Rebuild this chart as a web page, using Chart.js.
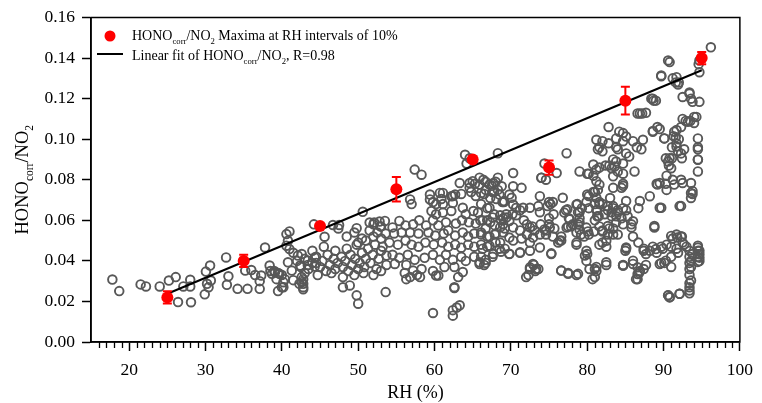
<!DOCTYPE html>
<html>
<head>
<meta charset="utf-8">
<script src="https://cdn.jsdelivr.net/npm/chart.js@4.4.1/dist/chart.umd.min.js"></script>
<style>
  body { margin: 0; background: #fff; }
  canvas { display: block; }
</style>
</head>
<body>
<canvas id="hono-chart" width="762" height="403"></canvas>
<script>
// observed HONOcorr/NO2 vs RH, [RH %, ratio]
const observed = [
  [17.8,0.0308],[18.7,0.0251],[21.5,0.0284],[22.2,0.0274],[24.0,0.0274],[25.2,0.0303],[26.1,0.032],[26.4,0.0197],
  [28.1,0.0196],[27.1,0.0274],[28.0,0.0307],[28.0,0.0274],[29.9,0.0235],[30.2,0.0287],[30.05,0.0347],[30.6,0.0377],
  [30.7,0.0303],[30.4,0.027],[32.7,0.0417],[33.0,0.0324],[32.8,0.0282],[34.2,0.0262],[35.5,0.0262],[35.2,0.0352],
  [36.0,0.0355],[37.1,0.0262],[37.8,0.0466],[37.1,0.030],[38.4,0.0377],[38.5,0.035],[39.1,0.0344],[39.7,0.0336],
  [39.5,0.0251],[40.0,0.027],[36.5,0.033],[37.3,0.0328],[38.7,0.0336],[39.0,0.035],[39.3,0.031],[39.5,0.034],[40.0,0.033],
  [40.6,0.0532],[41.0,0.0545],[40.8,0.0499],[41.0,0.0458],[40.8,0.0393],[41.3,0.0352],[42.1,0.0426],[42.3,0.0287],
  [40.4,0.031],[41.5,0.0305],[40.6,0.0475],[42.6,0.0434],[42.4,0.0377],[42.6,0.0295],[42.8,0.027],[42.8,0.031],
  [43.4,0.0401],[43.4,0.038],[44.3,0.0417],[44.3,0.0372],[44.2,0.058],[44.5,0.039],[40.2,0.0295],[40.2,0.027],
  [42.6,0.032],[42.8,0.0287],[42.8,0.026],
  [45.6,0.0519],[46.7,0.0577],[47.5,0.0577],[47.4,0.056],[49.8,0.0561],[50.6,0.0642],[51.5,0.0589],[52.1,0.0589],
  [52.8,0.0594],[52.9,0.057],[48.5,0.052],[49.5,0.054],[50.5,0.051],[51.5,0.055],[52.5,0.054],[52.0,0.058],[50.0,0.049],
  [48.0,0.027],[48.9,0.0279],[49.8,0.023],[50.0,0.0189],[53.6,0.0246],
  [41.5,0.044],[42.0,0.040],[42.5,0.037],[43.0,0.041],[43.5,0.036],[44.0,0.039],[44.5,0.042],[45.0,0.037],
  [45.3,0.040],[45.8,0.035],[46.0,0.043],[46.3,0.038],[46.8,0.041],[47.0,0.036],[47.3,0.039],[47.8,0.042],
  [48.0,0.037],[48.3,0.040],[48.7,0.035],[49.0,0.043],[49.2,0.038],[49.6,0.041],[50.0,0.036],[50.2,0.039],
  [50.5,0.044],[50.8,0.037],[51.0,0.041],[51.3,0.046],[51.6,0.039],[51.9,0.043],[52.2,0.048],[52.4,0.036],
  [52.7,0.041],[53.0,0.045],[44.0,0.045],[45.5,0.047],[47.0,0.045],[48.5,0.046],[49.8,0.048],[51.0,0.050],
  [52.0,0.052],[53.0,0.051],[43.0,0.034],[44.7,0.033],[46.5,0.034],[48.0,0.032],[49.5,0.033],[50.7,0.034],
  [52.0,0.033],[53.0,0.035],
  [57.4,0.085],[58.3,0.0825],[56.8,0.0703],[57.0,0.068],[64.0,0.0923],[64.6,0.0906],[64.2,0.088],[68.3,0.0931],
  [63.3,0.0784],[64.6,0.0784],[65.9,0.0776],[64.8,0.074],[65.4,0.072],[66.1,0.0735],[67.2,0.0776],[68.0,0.079],
  [67.6,0.074],[68.5,0.0727],[69.1,0.0695],[69.4,0.0614],[68.7,0.060],[69.2,0.056],[69.2,0.046],
  [59.4,0.0703],[59.8,0.069],[60.7,0.0735],[60.9,0.0705],[62.2,0.0719],[62.7,0.0727],[62.4,0.0685],
  [59.4,0.0727],[60.2,0.068],[61.1,0.0735],[61.1,0.068],[62.4,0.072],[63.5,0.073],[64.6,0.076],[65.0,0.0793],
  [65.3,0.078],[66.4,0.080],[66.7,0.075],[67.7,0.0784],[67.8,0.074],
  [59.6,0.0646],[60.2,0.063],[61.1,0.0638],[62.2,0.0646],[63.7,0.0662],[64.1,0.063],[65.1,0.0646],[65.7,0.0638],
  [67.2,0.0662],[67.6,0.0614],[66.9,0.060],[66.0,0.060],[65.4,0.0584],[64.5,0.059],[63.6,0.060],[62.8,0.0584],
  [61.5,0.059],[60.5,0.0575],[59.8,0.060],[58.9,0.0575],[58.0,0.060],[57.2,0.058],[56.2,0.0575],[55.4,0.0597],
  [54.5,0.0565],[53.5,0.0597],[53.0,0.057],[53.6,0.0535],[54.7,0.0535],[55.7,0.054],[56.8,0.054],[57.9,0.0535],
  [59.2,0.054],[60.1,0.0525],[61.2,0.0535],[61.8,0.055],[62.7,0.0525],[63.7,0.054],[64.4,0.052],[65.2,0.0535],
  [66.1,0.054],[66.9,0.052],[68.0,0.0535],[68.0,0.049],[66.9,0.047],[66.1,0.048],[65.2,0.047],[64.4,0.048],
  [63.5,0.0465],[62.7,0.048],[61.8,0.047],[61.0,0.049],[59.9,0.048],[58.8,0.049],[57.9,0.047],[57.0,0.048],
  [56.2,0.050],[55.2,0.048],[54.1,0.049],[53.2,0.047],[53.7,0.0426],[54.5,0.043],[55.4,0.0415],[56.5,0.043],
  [57.4,0.0405],[58.7,0.0415],[59.8,0.043],[60.7,0.0405],[61.5,0.043],[62.4,0.0405],[63.5,0.042],[64.1,0.040],
  [65.2,0.042],[65.9,0.0385],[66.7,0.0405],[67.6,0.042],[66.5,0.038],[53.7,0.038],[54.8,0.0385],[56.3,0.038],
  [57.2,0.0352],[56.1,0.034],[56.8,0.032],[58.3,0.036],[59.8,0.035],[61.3,0.037],[62.6,0.037],[63.7,0.0345],
  [60.5,0.0328],[57.7,0.033],[62.6,0.027],[56.3,0.031],[58.1,0.032],[60.2,0.0328],[59.8,0.0143],[62.6,0.0266],
  [63.3,0.0181],[62.4,0.0157],[62.4,0.013],[62.9,0.017],[63.1,0.032],
  [89.7,0.131],[90.8,0.138],[91.7,0.1306],[92.0,0.128],[92.5,0.1208],[93.4,0.1225],[93.6,0.120],[94.7,0.1184],
  [94.3,0.111],[94.0,0.108],[93.2,0.1086],[92.3,0.106],[91.7,0.1045],[91.3,0.1015],[92.0,0.100],[90.1,0.1004],
  [91.7,0.0964],[91.9,0.094],[92.3,0.093],[92.7,0.095],[94.5,0.1004],[94.5,0.095],[94.5,0.0899],[94.5,0.0841],
  [90.8,0.0906],[90.6,0.089],[91.0,0.0857],[90.4,0.082],[91.2,0.080],[92.3,0.080],[93.6,0.0784],[93.8,0.0744],
  [93.8,0.073],[93.6,0.071],[92.3,0.067],[89.7,0.0662],[89.5,0.0784],[90.4,0.075],[89.1,0.078],[88.2,0.0719],
  [88.8,0.0572],[89.0,0.0458],[89.7,0.047],[90.4,0.048],[91.0,0.0523],[91.7,0.053],[92.3,0.052],[92.5,0.049],
  [93.0,0.047],[94.5,0.0475],[94.5,0.045],[94.5,0.042],[94.5,0.0395],[93.8,0.0434],[93.6,0.040],[93.6,0.037],
  [93.6,0.0303],[93.4,0.029],[93.4,0.0254],[92.1,0.0238],[90.8,0.0222],[90.6,0.023],[91.7,0.046],[91.9,0.044],
  [91.0,0.042],[90.3,0.0401],[89.7,0.039],[88.2,0.045],[87.7,0.0434],[87.4,0.046],[86.6,0.0368],[86.6,0.0335],
  [86.4,0.031],[86.9,0.035],[87.7,0.038],[86.0,0.0401],[84.7,0.0377],[85.1,0.0466],[82.5,0.0393],[81.0,0.036],
  [80.7,0.031],[81.2,0.035],[80.0,0.0434],[79.9,0.045],[78.6,0.049],[78.8,0.0336],[77.5,0.0336],[76.6,0.0352],
  [75.3,0.0437],[76.4,0.050],[76.6,0.052],[77.3,0.0564],[77.9,0.057],[77.6,0.061],[77.0,0.0638],[77.4,0.0654],
  [78.6,0.0678],[78.8,0.064],[79.0,0.061],[76.8,0.0711],[75.5,0.069],[75.2,0.068],[73.8,0.0719],[73.6,0.067],
  [73.8,0.064],[72.5,0.0662],[71.6,0.0662],[71.2,0.065],[70.3,0.0678],[70.2,0.063],[69.8,0.0597],[69.0,0.061],
  [69.0,0.058],[68.6,0.0565],[71.7,0.060],[72.1,0.058],[72.5,0.0565],[73.1,0.055],[74.4,0.0555],[75.1,0.0564],
  [74.6,0.053],[75.7,0.056],[72.5,0.036],[72.9,0.0385],[73.2,0.035],[72.0,0.032],[73.6,0.036],[71.2,0.044],
  [69.8,0.0434],[68.7,0.0445],[70.3,0.050],[67.7,0.0434],[65.9,0.0393],[68.3,0.081],[70.3,0.0833],[74.4,0.088],
  [74.0,0.081],[74.6,0.080],[77.3,0.0931],[79.0,0.0841],[80.0,0.083],[81.2,0.085],[80.8,0.0875],[81.2,0.0997],
  [81.4,0.095],[82.0,0.099],[82.0,0.094],[82.8,0.106],[83.8,0.1004],[84.0,0.095],[84.7,0.103],[83.8,0.089],
  [83.4,0.090],[83.2,0.0857],[82.4,0.087],[81.2,0.0793],[80.8,0.082],[84.7,0.083],[85.5,0.0915],[86.2,0.0841],
  [84.7,0.077],[84.5,0.076],[85.1,0.0695],[84.7,0.078],[83.4,0.076],[83.0,0.071],[82.7,0.067],[83.4,0.066],
  [83.2,0.064],[83.8,0.062],[84.0,0.065],[85.1,0.065],[85.3,0.062],[84.7,0.058],[85.8,0.058],[86.0,0.0595],
  [85.8,0.0565],[86.9,0.0695],[86.7,0.066],[87.3,0.0997],[88.6,0.1037],[89.2,0.106],[87.1,0.095],[86.5,0.096],
  [86.0,0.099],[85.1,0.1013],[86.9,0.1127],[87.7,0.113],[88.4,0.120],[88.7,0.119],[81.0,0.074],[80.0,0.0727],
  [79.9,0.069],[80.2,0.066],[81.0,0.068],[81.6,0.068],[81.3,0.065],[82.3,0.063],[81.5,0.062],[81.0,0.060],
  [79.9,0.0564],[80.2,0.053],[79.6,0.052],[79.0,0.0555],[78.6,0.054],[78.8,0.058],[82.7,0.0572],[83.4,0.056],
  [83.4,0.053],[84.0,0.053],[82.7,0.053],[82.0,0.049],[82.5,0.047],[82.0,0.055],[86.0,0.052],[86.7,0.049],
  [65.9,0.081],[66.7,0.079],[67.5,0.077],[68.3,0.075],[66.5,0.073],[67.3,0.071],[68.1,0.0705],[68.9,0.069],
  [70.1,0.0711],[70.7,0.0662],[66.1,0.068],[66.9,0.066],[67.8,0.063],[68.6,0.0625],[69.4,0.063],[70.7,0.0625],
  [66.3,0.060],[67.3,0.059],[67.9,0.0575],[66.7,0.056],[66.1,0.053],[67.2,0.052],[67.9,0.053],[69.0,0.054],
  [70.3,0.0565],[71.2,0.055],[72.1,0.053],[72.9,0.0515],[71.4,0.051],[72.5,0.049],[69.8,0.0515],[68.6,0.049],
  [67.2,0.0475],[66.3,0.046],[66.1,0.042],[66.7,0.039],[73.8,0.053],[75.0,0.061],[75.6,0.063],[73.8,0.0466],
  [75.0,0.058],
  [74.0,0.081],[76.0,0.0833],[80.2,0.083],[68.8,0.0768],[70.3,0.0768],[71.4,0.076],[69.8,0.0727],[69.1,0.069],
  [75.0,0.069],[74.8,0.067],[77.2,0.065],[78.7,0.068],[79.0,0.064],[79.3,0.066],[77.7,0.0605],[78.1,0.058],
  [77.5,0.057],[79.0,0.059],[81.2,0.0711],[81.6,0.069],[81.2,0.065],[81.3,0.062],[80.2,0.072],[81.6,0.0776],
  [81.4,0.075],[80.8,0.074],[83.4,0.0817],[84.0,0.084],[83.6,0.0865],[84.7,0.088],[85.1,0.093],[81.6,0.096],
  [83.8,0.096],[82.8,0.098],[84.7,0.099],[81.6,0.086],[82.9,0.087],[82.0,0.068],[82.7,0.065],[83.4,0.067],
  [84.0,0.064],[84.7,0.066],[83.2,0.062],[83.8,0.059],[84.5,0.061],[81.6,0.057],[80.9,0.0545],[82.0,0.0545],
  [82.9,0.056],[82.5,0.0499],[81.6,0.048],[80.1,0.0545],[79.2,0.053],[78.6,0.048],[79.7,0.0426],[79.9,0.040],
  [80.3,0.036],[81.0,0.032],[81.2,0.037],[82.5,0.038],[84.7,0.038],[85.1,0.046],[76.6,0.0352],[77.5,0.034],
  [78.6,0.033],[72.5,0.0368],[73.0,0.038],[72.3,0.033],[73.3,0.036],[75.3,0.0434],[76.6,0.050],[76.2,0.049],
  [71.2,0.0442],[69.8,0.0435],[72.5,0.045],[68.5,0.046],[75.5,0.052],[74.6,0.055],[73.9,0.058],[72.8,0.057],
  [96.2,0.1453],[94.7,0.1388],[94.6,0.137],[94.7,0.133],[90.6,0.1388],[89.7,0.1314],[91.2,0.130],[91.6,0.128],
  [91.9,0.127],[88.6,0.120],[89.0,0.119],[86.6,0.1127],[87.2,0.1127],[93.4,0.123],[93.8,0.1184],[92.5,0.110],
  [92.9,0.109],[93.5,0.109],[94.0,0.111],[94.5,0.096],[94.5,0.090],[91.4,0.1037],[91.6,0.101],[91.7,0.098],
  [91.1,0.096],[90.3,0.0906],[91.1,0.0906],[92.4,0.0906],[90.7,0.087],[89.5,0.105],[88.6,0.104],[90.1,0.1004],
  [93.6,0.0735],[92.5,0.0784],[92.1,0.067],[89.5,0.0662],[88.8,0.0564],[89.2,0.0776],[90.3,0.078],[91.4,0.0776],
  [94.5,0.0466],[94.7,0.045],[94.7,0.0433],[94.7,0.0416],[94.7,0.0399],[93.4,0.045],[93.4,0.042],[93.4,0.039],
  [93.4,0.036],[93.4,0.033],[93.4,0.027],[93.4,0.024],[92.1,0.0238],[90.6,0.023],[90.8,0.022],[86.0,0.0385],
  [86.6,0.031],[86.8,0.034],[87.4,0.036],[84.7,0.0377],[85.0,0.045],[87.4,0.045],[88.6,0.047],[89.1,0.044],
  [89.9,0.046],[91.0,0.047],[91.8,0.0515],[92.4,0.052],[92.7,0.048],[91.2,0.051],[89.5,0.0385],[90.1,0.039],
  [91.0,0.037],[84.2,0.1037]
];

// HONOcorr/NO2 maxima per 10% RH bin
const maxRH = [25, 35, 45, 55, 65, 75, 85, 95];
const maxRatio = [0.022, 0.040, 0.0572, 0.0753, 0.090, 0.086, 0.119, 0.140];
const maxErr = [0.003, 0.003, 0.001, 0.006, 0.001, 0.0035, 0.0068, 0.003];

// linear fit end points
const fitRH = [25, 95];
const fitRatio = [0.0238, 0.134];

const xTicks = [20, 30, 40, 50, 60, 70, 80, 90, 100];
const yTicks = [0, 0.02, 0.04, 0.06, 0.08, 0.10, 0.12, 0.14, 0.16];

const serif = "'Liberation Serif', 'Times New Roman', serif";

function drawRich(ctx, parts, x, y, size) {
  // parts: [text, isSubscript]
  let cx = x;
  parts.forEach(([t, sub]) => {
    ctx.font = (sub ? size * 0.62 : size) + "px " + serif;
    ctx.fillText(t, cx, sub ? y + size * 0.28 : y);
    cx += ctx.measureText(t).width;
  });
  return cx - x;
}

function richWidth(ctx, parts, size) {
  let w = 0;
  parts.forEach(([t, sub]) => {
    ctx.font = (sub ? size * 0.62 : size) + "px " + serif;
    w += ctx.measureText(t).width;
  });
  return w;
}

const extras = {
  id: "extras",
  afterDraw(chart) {
    const ctx = chart.ctx;
    const xs = chart.scales.x, ys = chart.scales.y;
    const area = chart.chartArea;
    ctx.save();

    // minor ticks on x
    ctx.strokeStyle = "#000";
    ctx.lineWidth = 1.3;
    for (let v = 16; v < 100; v++) {
      if (v % 10 === 0) continue;
      const px = Math.round(xs.getPixelForValue(v)) + 0.5;
      ctx.beginPath();
      ctx.moveTo(px, area.bottom);
      ctx.lineTo(px, area.bottom + 6);
      ctx.stroke();
    }

    // frame
    ctx.lineWidth = 1.5;
    ctx.strokeRect(area.left, area.top, area.right - area.left, area.bottom - area.top);

    // error bars
    ctx.strokeStyle = "#f00";
    ctx.lineWidth = 2;
    maxRH.forEach((rh, i) => {
      const px = xs.getPixelForValue(rh);
      const top = ys.getPixelForValue(maxRatio[i] + maxErr[i]);
      const bot = ys.getPixelForValue(maxRatio[i] - maxErr[i]);
      ctx.beginPath();
      ctx.moveTo(px, top); ctx.lineTo(px, bot);
      ctx.moveTo(px - 4.5, top); ctx.lineTo(px + 4.5, top);
      ctx.moveTo(px - 4.5, bot); ctx.lineTo(px + 4.5, bot);
      ctx.stroke();
    });

    // legend
    ctx.fillStyle = "#f00";
    ctx.beginPath();
    ctx.arc(110, 36, 5.5, 0, Math.PI * 2);
    ctx.fill();
    ctx.strokeStyle = "#000";
    ctx.lineWidth = 2;
    ctx.beginPath();
    ctx.moveTo(97, 54); ctx.lineTo(123, 54);
    ctx.stroke();
    ctx.fillStyle = "#000";
    ctx.textBaseline = "alphabetic";
    ctx.textAlign = "left";
    drawRich(ctx, [["HONO", 0], ["corr", 1], ["/NO", 0], ["2", 1], [" Maxima at RH intervals of 10%", 0]], 132, 40, 14);
    drawRich(ctx, [["Linear fit of HONO", 0], ["corr", 1], ["/NO", 0], ["2", 1], [", R=0.98", 0]], 132, 60, 14);

    // x title
    ctx.font = "18px " + serif;
    ctx.textAlign = "center";
    ctx.textBaseline = "middle";
    ctx.fillText("RH (%)", (area.left + area.right) / 2, 393);

    // y title
    ctx.textAlign = "left";
    ctx.textBaseline = "alphabetic";
    const yParts = [["HONO", 0], ["corr", 1], ["/NO", 0], ["2", 1]];
    const w = richWidth(ctx, yParts, 18.5);
    ctx.translate(28, (area.top + area.bottom) / 2);
    ctx.rotate(-Math.PI / 2);
    drawRich(ctx, yParts, -w / 2, 0, 18.5);
    ctx.restore();
  }
};

new Chart(document.getElementById("hono-chart"), {
  type: "scatter",
  data: {
    datasets: [
      {
        label: "HONOcorr/NO2 Maxima at RH intervals of 10%",
        data: maxRH.map((x, i) => ({ x: x, y: maxRatio[i] })),
        backgroundColor: "#ff0000",
        borderColor: "#ff0000",
        pointRadius: 6,
        borderWidth: 0,
        order: 0,
      },
      {
        label: "Linear fit of HONOcorr/NO2, R=0.98",
        data: fitRH.map((x, i) => ({ x: x, y: fitRatio[i] })),
        showLine: true,
        borderColor: "#000",
        borderWidth: 2,
        pointRadius: 0,
        order: 1,
      },
      {
        label: "observed",
        data: observed.map(p => ({ x: p[0], y: p[1] })),
        pointStyle: "circle",
        pointRadius: 4.3,
        borderWidth: 1.9,
        borderColor: "#585858",
        backgroundColor: "rgba(0,0,0,0)",
        order: 2,
      },
    ],
  },
  options: {
    responsive: false,
    animation: false,
    layout: { padding: { top: 15, right: 21, left: 0, bottom: 0 } },
    plugins: { legend: { display: false }, tooltip: { enabled: false } },
    scales: {
      x: {
        type: "linear",
        min: 15,
        max: 100,
        afterBuildTicks: s => { s.ticks = xTicks.map(v => ({ value: v })); },
        afterFit: s => { s.height = 61; },
        border: { color: "#000", width: 1.5 },
        grid: { drawOnChartArea: false, tickLength: 9, tickColor: "#000", tickWidth: 1.5 },
        ticks: { color: "#000", font: { family: serif, size: 17.5 }, padding: 9, maxRotation: 0 },
      },
      y: {
        min: 0,
        max: 0.16,
        afterBuildTicks: s => { s.ticks = yTicks.map(v => ({ value: v })); },
        afterFit: s => { s.width = 91; },
        border: { color: "#000", width: 1.5 },
        grid: { drawOnChartArea: false, tickLength: 9, tickColor: "#000", tickWidth: 1.5 },
        ticks: { color: "#000", font: { family: serif, size: 17.5 }, padding: 7, callback: v => v.toFixed(2) },
      },
    },
  },
  plugins: [extras],
});
</script>
</body>
</html>
